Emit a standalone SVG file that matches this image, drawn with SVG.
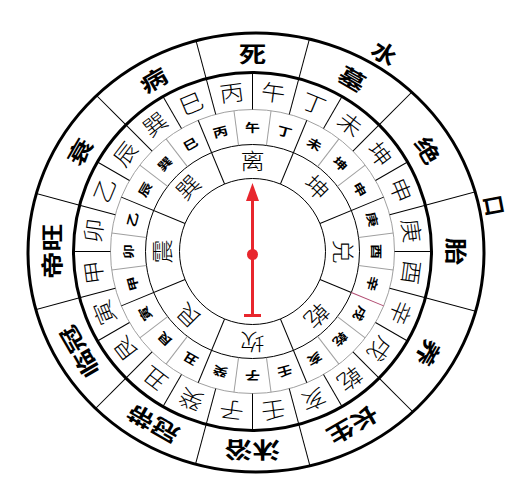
<svg xmlns="http://www.w3.org/2000/svg" xmlns:xlink="http://www.w3.org/1999/xlink" width="513" height="487" viewBox="0 0 513 487">
<style>
text{font-family:"Noto Sans CJK SC","Noto Sans CJK JP",sans-serif;text-anchor:middle;dominant-baseline:central;fill:#000}
.st{font-weight:700;font-size:24px}
.mt{font-weight:300;font-size:22px}
.sm{font-weight:700;font-size:13px}
.tg{font-weight:300;font-size:22px}
.thin{stroke:#000;stroke-width:1;fill:none}
.gray{stroke:#a0a0a0;stroke-width:1;fill:none}
.thick{stroke:#000;stroke-width:3;fill:none}
.red{fill:#e8262d}
</style>
<defs>
<clipPath id="oc"><ellipse cx="256" cy="252.5" rx="228" ry="219.5"/></clipPath>
<line id="d12" x1="252.5" y1="72.5" x2="252.5" y2="4" class="thin"/>
<line id="d24" x1="252.5" y1="72.5" x2="252.5" y2="109.5" class="thin"/>
<line id="dg" x1="252.5" y1="109.5" x2="252.5" y2="144.5" class="gray"/>
<line id="dt" x1="252.5" y1="109.5" x2="252.5" y2="178.5" class="thin"/>
</defs>
<rect width="513" height="487" fill="#fff"/>

<g id="rings">
<ellipse cx="256" cy="252.5" rx="228" ry="219.5" class="thick"/>
<circle cx="252.5" cy="251.5" r="179" class="thick"/>
<circle cx="252.5" cy="251.5" r="142" class="gray"/>
<circle cx="252.5" cy="251.5" r="107" class="thin"/>
<circle cx="252.5" cy="251.5" r="73" class="thin"/>
</g>

<g id="dividers">
<g clip-path="url(#oc)">
<use xlink:href="#d12" transform="rotate(15 252.5 251.5)"/>
<use xlink:href="#d12" transform="rotate(45 252.5 251.5)"/>
<use xlink:href="#d12" transform="rotate(75 252.5 251.5)"/>
<use xlink:href="#d12" transform="rotate(105 252.5 251.5)"/>
<use xlink:href="#d12" transform="rotate(135 252.5 251.5)"/>
<use xlink:href="#d12" transform="rotate(165 252.5 251.5)"/>
<use xlink:href="#d12" transform="rotate(195 252.5 251.5)"/>
<use xlink:href="#d12" transform="rotate(225 252.5 251.5)"/>
<use xlink:href="#d12" transform="rotate(255 252.5 251.5)"/>
<use xlink:href="#d12" transform="rotate(285 252.5 251.5)"/>
<use xlink:href="#d12" transform="rotate(315 252.5 251.5)"/>
<use xlink:href="#d12" transform="rotate(345 252.5 251.5)"/>
</g>
<use xlink:href="#d24" transform="rotate(0 252.5 251.5)"/>
<use xlink:href="#d24" transform="rotate(15 252.5 251.5)"/>
<use xlink:href="#d24" transform="rotate(30 252.5 251.5)"/>
<use xlink:href="#d24" transform="rotate(45 252.5 251.5)"/>
<use xlink:href="#d24" transform="rotate(60 252.5 251.5)"/>
<use xlink:href="#d24" transform="rotate(75 252.5 251.5)"/>
<use xlink:href="#d24" transform="rotate(90 252.5 251.5)"/>
<use xlink:href="#d24" transform="rotate(105 252.5 251.5)"/>
<use xlink:href="#d24" transform="rotate(120 252.5 251.5)"/>
<use xlink:href="#d24" transform="rotate(135 252.5 251.5)"/>
<use xlink:href="#d24" transform="rotate(150 252.5 251.5)"/>
<use xlink:href="#d24" transform="rotate(165 252.5 251.5)"/>
<use xlink:href="#d24" transform="rotate(180 252.5 251.5)"/>
<use xlink:href="#d24" transform="rotate(195 252.5 251.5)"/>
<use xlink:href="#d24" transform="rotate(210 252.5 251.5)"/>
<use xlink:href="#d24" transform="rotate(225 252.5 251.5)"/>
<use xlink:href="#d24" transform="rotate(240 252.5 251.5)"/>
<use xlink:href="#d24" transform="rotate(255 252.5 251.5)"/>
<use xlink:href="#d24" transform="rotate(270 252.5 251.5)"/>
<use xlink:href="#d24" transform="rotate(285 252.5 251.5)"/>
<use xlink:href="#d24" transform="rotate(300 252.5 251.5)"/>
<use xlink:href="#d24" transform="rotate(315 252.5 251.5)"/>
<use xlink:href="#d24" transform="rotate(330 252.5 251.5)"/>
<use xlink:href="#d24" transform="rotate(345 252.5 251.5)"/>
<use xlink:href="#dg" transform="rotate(7.5 252.5 251.5)"/>
<use xlink:href="#dg" transform="rotate(37.5 252.5 251.5)"/>
<use xlink:href="#dg" transform="rotate(52.5 252.5 251.5)"/>
<use xlink:href="#dg" transform="rotate(82.5 252.5 251.5)"/>
<use xlink:href="#dg" transform="rotate(97.5 252.5 251.5)"/>
<use xlink:href="#dg" transform="rotate(127.5 252.5 251.5)"/>
<use xlink:href="#dg" transform="rotate(142.5 252.5 251.5)"/>
<use xlink:href="#dg" transform="rotate(172.5 252.5 251.5)"/>
<use xlink:href="#dg" transform="rotate(187.5 252.5 251.5)"/>
<use xlink:href="#dg" transform="rotate(217.5 252.5 251.5)"/>
<use xlink:href="#dg" transform="rotate(232.5 252.5 251.5)"/>
<use xlink:href="#dg" transform="rotate(262.5 252.5 251.5)"/>
<use xlink:href="#dg" transform="rotate(277.5 252.5 251.5)"/>
<use xlink:href="#dg" transform="rotate(307.5 252.5 251.5)"/>
<use xlink:href="#dg" transform="rotate(322.5 252.5 251.5)"/>
<use xlink:href="#dg" transform="rotate(352.5 252.5 251.5)"/>
<use xlink:href="#dt" transform="rotate(22.5 252.5 251.5)"/>
<use xlink:href="#dt" transform="rotate(67.5 252.5 251.5)"/>
<line x1="252.5" y1="144.5" x2="252.5" y2="178.5" class="thin" transform="rotate(112.5 252.5 251.5)"/>
<line x1="252.5" y1="109.5" x2="252.5" y2="144.5" stroke="#b04a70" stroke-width="1" transform="rotate(112.5 252.5 251.5)"/>
<use xlink:href="#dt" transform="rotate(157.5 252.5 251.5)"/>
<use xlink:href="#dt" transform="rotate(202.5 252.5 251.5)"/>
<use xlink:href="#dt" transform="rotate(247.5 252.5 251.5)"/>
<use xlink:href="#dt" transform="rotate(292.5 252.5 251.5)"/>
<use xlink:href="#dt" transform="rotate(337.5 252.5 251.5)"/>
</g>

<g id="stages">
<text class="st" transform="rotate(0 252.5 251.5) translate(252.5 52.5) scale(1.15 0.9)">死</text>
<text class="st" transform="rotate(30 252.5 251.5) translate(252.5 51) scale(1.15 0.9)">墓</text>
<text class="st" transform="rotate(60 252.5 251.5) translate(252.5 48) scale(1.15 0.9)">绝</text>
<text class="st" transform="rotate(90 252.5 251.5) translate(252.5 46.5) scale(1.15 0.9)">胎</text>
<text class="st" transform="rotate(120 252.5 251.5) translate(252.5 47.5) scale(1.15 0.9)">养</text>
<text class="st" transform="rotate(150 252.5 251.5) translate(252.5 50) scale(1.15 0.9)">长生</text>
<text class="st" transform="rotate(180 252.5 251.5) translate(252.5 51.7) scale(1.15 0.9)">沐浴</text>
<text class="st" transform="rotate(210 252.5 251.5) translate(252.5 51.6) scale(1.15 0.9)">冠带</text>
<text class="st" transform="rotate(240 252.5 251.5) translate(252.5 50.3) scale(1.15 0.9)">临冠</text>
<text class="st" transform="rotate(270 252.5 251.5) translate(252.5 49.8) scale(1.15 0.9)">帝旺</text>
<text class="st" transform="rotate(300 252.5 251.5) translate(252.5 51) scale(1.15 0.9)">衰</text>
<text class="st" transform="rotate(330 252.5 251.5) translate(252.5 52.5) scale(1.15 0.9)">病</text>
</g>

<g id="water-mouth">
<text class="st" transform="rotate(33.7 252.5 251.5) translate(252.5 12) scale(1.05 0.95)">水</text>
<text class="st" transform="rotate(79.2 252.5 251.5) translate(252.5 4) scale(0.85 0.95)">口</text>
</g>

<g id="mountains">
<text class="mt" transform="rotate(7.5 252.5 251.5) translate(252.5 90) scale(1.1 1)">午</text>
<text class="mt" transform="rotate(22.5 252.5 251.5) translate(252.5 90) scale(1.1 1)">丁</text>
<text class="mt" transform="rotate(37.5 252.5 251.5) translate(252.5 90) scale(1.1 1)">未</text>
<text class="mt" transform="rotate(52.5 252.5 251.5) translate(252.5 90) scale(1.1 1)">坤</text>
<text class="mt" transform="rotate(67.5 252.5 251.5) translate(252.5 90) scale(1.1 1)">申</text>
<text class="mt" transform="rotate(82.5 252.5 251.5) translate(252.5 90) scale(1.1 1)">庚</text>
<text class="mt" transform="rotate(97.5 252.5 251.5) translate(252.5 90) scale(1.1 1)">酉</text>
<text class="mt" transform="rotate(112.5 252.5 251.5) translate(252.5 90) scale(1.1 1)">辛</text>
<text class="mt" transform="rotate(127.5 252.5 251.5) translate(252.5 90) scale(1.1 1)">戌</text>
<text class="mt" transform="rotate(142.5 252.5 251.5) translate(252.5 90) scale(1.1 1)">乾</text>
<text class="mt" transform="rotate(157.5 252.5 251.5) translate(252.5 90) scale(1.1 1)">亥</text>
<text class="mt" transform="rotate(172.5 252.5 251.5) translate(252.5 90) scale(1.1 1)">壬</text>
<text class="mt" transform="rotate(187.5 252.5 251.5) translate(252.5 90) scale(1.1 1)">子</text>
<text class="mt" transform="rotate(202.5 252.5 251.5) translate(252.5 90) scale(1.1 1)">癸</text>
<text class="mt" transform="rotate(217.5 252.5 251.5) translate(252.5 90) scale(1.1 1)">丑</text>
<text class="mt" transform="rotate(232.5 252.5 251.5) translate(252.5 90) scale(1.1 1)">艮</text>
<text class="mt" transform="rotate(247.5 252.5 251.5) translate(252.5 90) scale(1.1 1)">寅</text>
<text class="mt" transform="rotate(262.5 252.5 251.5) translate(252.5 90) scale(1.1 1)">甲</text>
<text class="mt" transform="rotate(277.5 252.5 251.5) translate(252.5 90) scale(1.1 1)">卯</text>
<text class="mt" transform="rotate(292.5 252.5 251.5) translate(252.5 90) scale(1.1 1)">乙</text>
<text class="mt" transform="rotate(307.5 252.5 251.5) translate(252.5 90) scale(1.1 1)">辰</text>
<text class="mt" transform="rotate(322.5 252.5 251.5) translate(252.5 90) scale(1.1 1)">巽</text>
<text class="mt" transform="rotate(337.5 252.5 251.5) translate(252.5 90) scale(1.1 1)">巳</text>
<text class="mt" transform="rotate(352.5 252.5 251.5) translate(252.5 90) scale(1.1 1)">丙</text>
</g>

<g id="small-mountains">
<text class="sm" transform="rotate(0 252.5 251.5) translate(252.5 126.7) scale(1.15 0.9)">午</text>
<text class="sm" transform="rotate(15 252.5 251.5) translate(252.5 126.7) scale(1.15 0.9)">丁</text>
<text class="sm" transform="rotate(30 252.5 251.5) translate(252.5 126.7) scale(1.15 0.9)">未</text>
<text class="sm" transform="rotate(45 252.5 251.5) translate(252.5 126.7) scale(1.15 0.9)">坤</text>
<text class="sm" transform="rotate(60 252.5 251.5) translate(252.5 126.7) scale(1.15 0.9)">申</text>
<text class="sm" transform="rotate(75 252.5 251.5) translate(252.5 126.7) scale(1.15 0.9)">庚</text>
<text class="sm" transform="rotate(90 252.5 251.5) translate(252.5 126.7) scale(1.15 0.9)">酉</text>
<text class="sm" transform="rotate(105 252.5 251.5) translate(252.5 126.7) scale(1.15 0.9)">辛</text>
<text class="sm" transform="rotate(120 252.5 251.5) translate(252.5 126.7) scale(1.15 0.9)">戌</text>
<text class="sm" transform="rotate(135 252.5 251.5) translate(252.5 126.7) scale(1.15 0.9)">乾</text>
<text class="sm" transform="rotate(150 252.5 251.5) translate(252.5 126.7) scale(1.15 0.9)">亥</text>
<text class="sm" transform="rotate(165 252.5 251.5) translate(252.5 126.7) scale(1.15 0.9)">壬</text>
<text class="sm" transform="rotate(180 252.5 251.5) translate(252.5 126.7) scale(1.15 0.9)">子</text>
<text class="sm" transform="rotate(195 252.5 251.5) translate(252.5 126.7) scale(1.15 0.9)">癸</text>
<text class="sm" transform="rotate(210 252.5 251.5) translate(252.5 126.7) scale(1.15 0.9)">丑</text>
<text class="sm" transform="rotate(225 252.5 251.5) translate(252.5 126.7) scale(1.15 0.9)">艮</text>
<text class="sm" transform="rotate(240 252.5 251.5) translate(252.5 126.7) scale(1.15 0.9)">寅</text>
<text class="sm" transform="rotate(255 252.5 251.5) translate(252.5 126.7) scale(1.15 0.9)">甲</text>
<text class="sm" transform="rotate(270 252.5 251.5) translate(252.5 126.7) scale(1.15 0.9)">卯</text>
<text class="sm" transform="rotate(285 252.5 251.5) translate(252.5 126.7) scale(1.15 0.9)">乙</text>
<text class="sm" transform="rotate(300 252.5 251.5) translate(252.5 126.7) scale(1.15 0.9)">辰</text>
<text class="sm" transform="rotate(315 252.5 251.5) translate(252.5 126.7) scale(1.15 0.9)">巽</text>
<text class="sm" transform="rotate(330 252.5 251.5) translate(252.5 126.7) scale(1.15 0.9)">巳</text>
<text class="sm" transform="rotate(345 252.5 251.5) translate(252.5 126.7) scale(1.15 0.9)">丙</text>
</g>

<g id="trigrams">
<text class="tg" transform="rotate(0 252.5 251.5) translate(252.5 159.5) scale(1.1 1)">离</text>
<text class="tg" transform="rotate(45 252.5 251.5) translate(252.5 159.5) scale(1.1 1)">坤</text>
<text class="tg" transform="rotate(90 252.5 251.5) translate(252.5 159.5) scale(1.1 1)">兑</text>
<text class="tg" transform="rotate(135 252.5 251.5) translate(252.5 159.5) scale(1.1 1)">乾</text>
<text class="tg" transform="rotate(180 252.5 251.5) translate(252.5 159.5) scale(1.1 1)">坎</text>
<text class="tg" transform="rotate(225 252.5 251.5) translate(252.5 159.5) scale(1.1 1)">艮</text>
<text class="tg" transform="rotate(270 252.5 251.5) translate(252.5 159.5) scale(1.1 1)">震</text>
<text class="tg" transform="rotate(315 252.5 251.5) translate(252.5 159.5) scale(1.1 1)">巽</text>
</g>

<g id="needle">
<polygon class="red" points="252.5,183 246,201 259,201"/>
<rect class="red" x="251" y="199" width="3" height="117"/>
<circle class="red" cx="252.5" cy="254.5" r="5.5"/>
<rect class="red" x="244" y="314" width="17" height="3"/>
</g>
</svg>
